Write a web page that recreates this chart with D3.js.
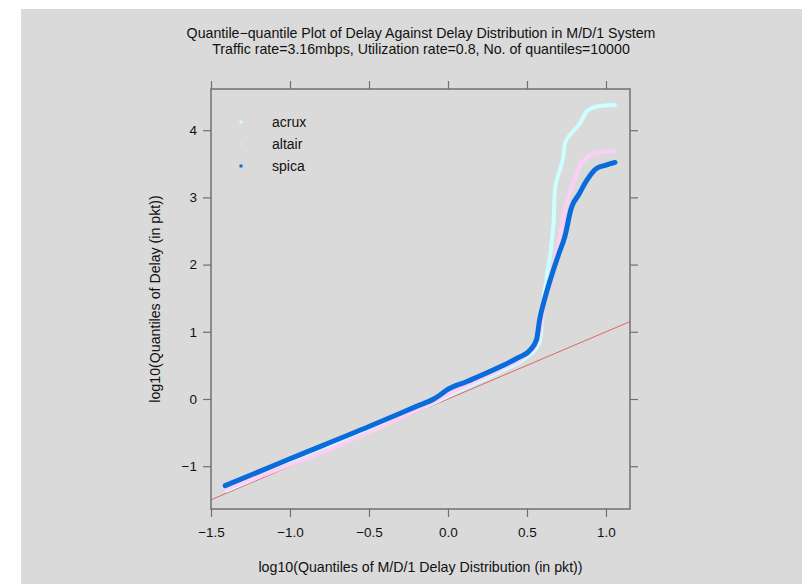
<!DOCTYPE html>
<html>
<head>
<meta charset="utf-8">
<script src="https://cdn.jsdelivr.net/npm/d3@7"></script>
<style>
  body { margin: 0; background: #fff; }
  svg text { font-family: "Liberation Sans", Arial, Helvetica, sans-serif; fill: #111; }
</style>
</head>
<body>
<svg width="802" height="584"></svg>
<script>
var acrux = [[-1.40,-1.36],[-0.5,-0.46],[-0.09,-0.06],[0.013,0.06],[0.33,0.41],[0.5,0.63],[0.57,0.80],
  [0.59,0.98],[0.593,1.13],[0.625,1.82],[0.656,2.32],[0.67,2.71],[0.677,3.11],[0.70,3.35],[0.73,3.61],
  [0.74,3.80],[0.78,3.95],[0.835,4.10],[0.878,4.28],[0.96,4.36],[1.057,4.375]];
var altair = [[-1.41,-1.34],[-0.09,-0.04],[0.0,0.07],[0.33,0.44],[0.5,0.66],[0.56,0.82],[0.585,1.05],
  [0.61,1.45],[0.65,1.85],[0.70,2.32],[0.73,2.71],[0.77,3.06],[0.81,3.31],[0.835,3.48],[0.87,3.57],
  [0.90,3.63],[0.97,3.67],[1.057,3.69]];
var spica = [[-1.41,-1.29],[-1.0,-0.89],[-0.5,-0.41],[-0.2,-0.11],[-0.09,0.0],[-0.05,0.06],[-0.01,0.13],
  [0.12,0.26],[0.33,0.48],[0.44,0.61],[0.52,0.73],[0.56,0.88],[0.58,1.18],[0.61,1.47],[0.667,1.92],
  [0.70,2.15],[0.74,2.42],[0.78,2.84],[0.83,3.05],[0.88,3.26],[0.94,3.43],[1.0,3.48],[1.057,3.52]];

var seriesNames = ["acrux", "altair", "spica"];
var seriesColors = ["#ccffff", "#fccff5", "#0a6bdb"];
var xTicks = [-1.5, -1.0, -0.5, 0.0, 0.5, 1.0];
var yTicks = [-1, 0, 1, 2, 3, 4];
var titleLines = ["Quantile\u2212quantile Plot of Delay Against Delay Distribution in M/D/1 System",
  "Traffic rate=3.16mbps, Utilization rate=0.8, No. of quantiles=10000"];

var svg = d3.select("svg"),
    margin = {top: 89, left: 211, right: 172, bottom: 75},
    width = +svg.attr("width") - margin.left - margin.right,
    height = +svg.attr("height") - margin.top - margin.bottom;

// gray device background
svg.append("rect").attr("x", 21).attr("y", 9).attr("width", 802).attr("height", 584).attr("fill", "#dadada");

var x = d3.scaleLinear().domain([-1.5, 1.152]).range([0, width]);
var y = d3.scaleLinear().domain([-1.637, 4.613]).range([height, 0]);

var g = svg.append("g").attr("transform", "translate(" + margin.left + "," + margin.top + ")");

g.append("defs").append("clipPath").attr("id", "clip")
  .append("rect").attr("width", width).attr("height", height);

// reference line y = x
g.append("line")
    .attr("clip-path", "url(#clip)")
    .attr("x1", x(-1.5)).attr("y1", y(-1.5))
    .attr("x2", x(1.152)).attr("y2", y(1.152))
    .attr("stroke", "#e06666").attr("stroke-width", 1);

var line = d3.line()
    .x(function(d) { return x(d[0]); })
    .y(function(d) { return y(d[1]); })
    .curve(d3.curveMonotoneX);

var allSeries = [acrux, altair, spica];
var widths = [4, 4, 5];
allSeries.forEach(function(s, i) {
  g.append("path")
      .datum(s)
      .attr("d", line)
      .attr("fill", "none")
      .attr("stroke", seriesColors[i])
      .attr("stroke-width", widths[i])
      .attr("stroke-linecap", "round")
      .attr("stroke-linejoin", "round");
});

// axes, lattice style
var axisColor = "#707070";
function styleAxis(sel) {
  sel.select(".domain").remove();
  sel.selectAll(".tick line").attr("stroke", axisColor).attr("stroke-width", 1.2);
  sel.selectAll(".tick text").attr("font-size", 13.5).attr("fill", "#111")
     .style("font-family", "'Liberation Sans', Arial, sans-serif");
}

g.append("g").attr("transform", "translate(0," + height + ")")
  .call(d3.axisBottom(x).tickValues(xTicks).tickFormat(d3.format(".1f")).tickSize(8).tickPadding(10))
  .call(styleAxis);
g.append("g")
  .call(d3.axisTop(x).tickValues(xTicks).tickFormat("").tickSize(8))
  .call(styleAxis);
g.append("g")
  .call(d3.axisLeft(y).tickValues(yTicks).tickFormat(d3.format("d")).tickSize(8).tickPadding(6))
  .call(styleAxis);
g.append("g").attr("transform", "translate(" + width + ",0)")
  .call(d3.axisRight(y).tickValues(yTicks).tickFormat("").tickSize(8))
  .call(styleAxis);

g.append("rect")
    .attr("width", width).attr("height", height)
    .attr("fill", "none").attr("stroke", axisColor).attr("stroke-width", 1.5);

// legend
var legend = g.append("g").attr("transform", "translate(30,33)");
seriesNames.forEach(function(n, i) {
  var row = legend.append("g").attr("transform", "translate(0," + (i * 22) + ")");
  row.append("rect").attr("x", -1.5).attr("y", -1.5).attr("width", 3).attr("height", 3)
     .attr("fill", seriesColors[i]);
  row.append("text").attr("x", 31).attr("y", 5).attr("font-size", 14).text(n);
});

// titles
svg.selectAll(".title").data(titleLines).enter().append("text")
    .attr("class", "title")
    .attr("x", 421).attr("y", function(d, i) { return 38 + i * 16; })
    .attr("text-anchor", "middle").attr("font-size", 14.2)
    .text(function(d) { return d; });

svg.append("text")
    .attr("x", margin.left + width / 2).attr("y", 572)
    .attr("text-anchor", "middle").attr("font-size", 14.2)
    .text("log10(Quantiles of M/D/1 Delay Distribution (in pkt))");

svg.append("text")
    .attr("transform", "translate(160," + (margin.top + height / 2) + ") rotate(-90)")
    .attr("text-anchor", "middle").attr("font-size", 14.2)
    .text("log10(Quantiles of Delay (in pkt))");
</script>
</body>
</html>
